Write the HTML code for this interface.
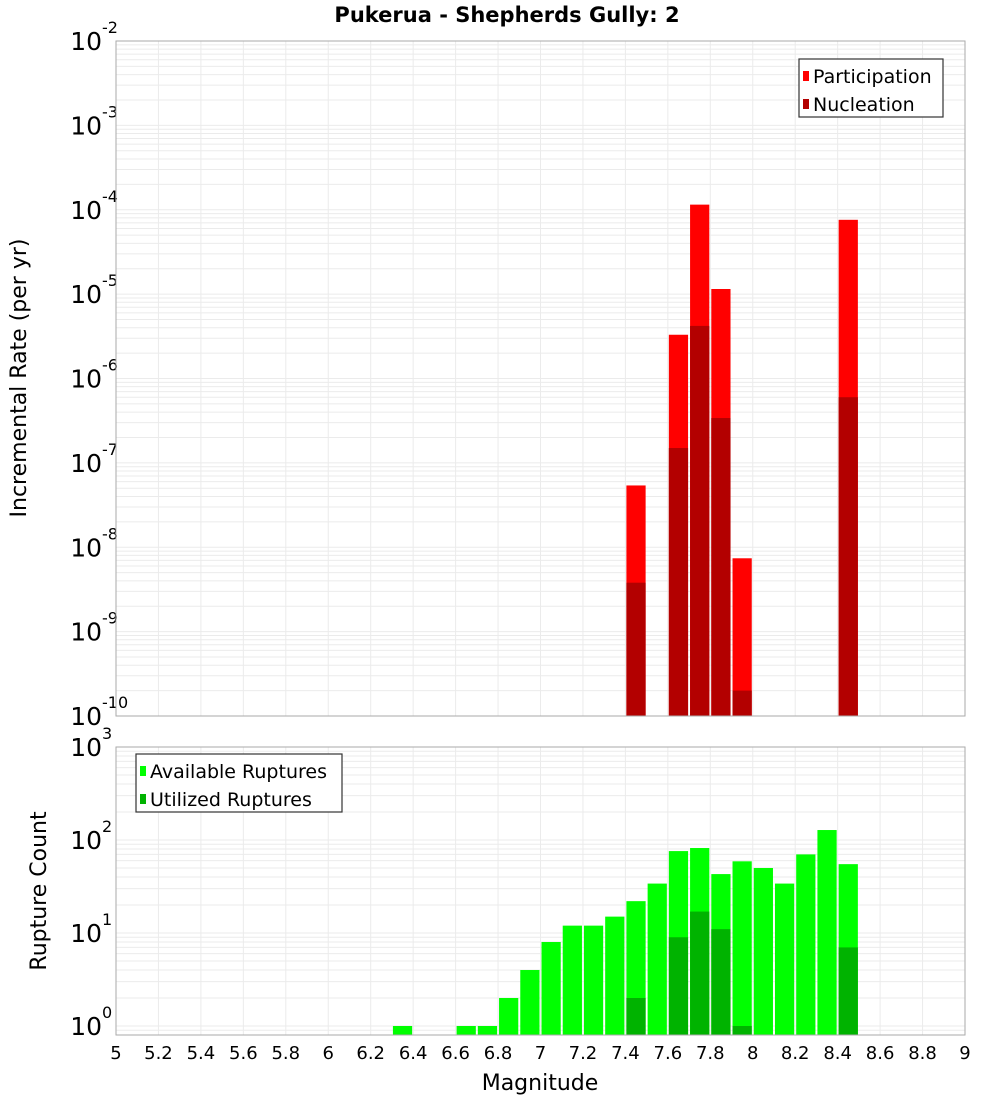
<!DOCTYPE html>
<html><head><meta charset="utf-8"><style>
body{margin:0;background:#fff;}
svg{display:block;font-family:"Liberation Sans","DejaVu Sans",sans-serif;}
</style></head><body>
<svg id="chart" width="1000" height="1100" viewBox="0 0 1000 1100">
<text x="507" y="22" text-anchor="middle" font-size="21" font-weight="bold" font-family="DejaVu Sans, sans-serif">Pukerua - Shepherds Gully: 2</text>
<g id="top"></g>
<g id="bot"></g>
<text transform="translate(26,378) rotate(-90)" text-anchor="middle" font-size="22" font-family="DejaVu Sans, sans-serif">Incremental Rate (per yr)</text>
<text transform="translate(46,891) rotate(-90)" text-anchor="middle" font-size="22" font-family="DejaVu Sans, sans-serif">Rupture Count</text>
<text x="540" y="1090" text-anchor="middle" font-size="22" font-family="DejaVu Sans, sans-serif">Magnitude</text>
</svg>
<script>
const magBins=[7.45,7.65,7.75,7.85,7.95,8.45];
const participation=[5.4e-8,3.3e-6,1.15e-4,1.15e-5,7.4e-9,7.6e-5];
const nucleation=[3.8e-9,1.5e-7,4.2e-6,3.4e-7,2.0e-10,6.0e-7];
const countBins=[6.35,6.65,6.75,6.85,6.95,7.05,7.15,7.25,7.35,7.45,7.55,7.65,7.75,7.85,7.95,8.05,8.15,8.25,8.35,8.45];
const available=[1,1,1,2,4,8,12,12,15,22,34,76,82,43,59,50,34,70,128,55];
const utilBins=[7.45,7.65,7.75,7.85,7.95,8.45];
const utilized=[2,9,17,11,1,7];
const xTicks=[5,5.2,5.4,5.6,5.8,6,6.2,6.4,6.6,6.8,7,7.2,7.4,7.6,7.8,8,8.2,8.4,8.6,8.8,9];
const topExps=[-2,-3,-4,-5,-6,-7,-8,-9,-10];
const botExps=[3,2,1,0];

const NS="http://www.w3.org/2000/svg";
const L=116,R=965;
const xs=m=>L+(m-5)/(9-5)*(R-L);
function mk(p,t,a){const e=document.createElementNS(NS,t);for(const k in a)e.setAttribute(k,a[k]);p.appendChild(e);return e;}

function panel(g,top,bot,lmax,lmin,exps,name){
  const ys=v=>top+(lmax-Math.log10(v))/(lmax-lmin)*(bot-top);
  // grid
  for(let d=Math.floor(lmin);d<lmax;d++){for(let k=1;k<10;k++){const v=k*Math.pow(10,d);const y=ys(v);if(y<top||y>bot)continue;
    const ln=mk(g,'line',{x1:L,x2:R,y1:y,y2:y,stroke:'#ebebeb','stroke-width':1});
    
    }}
  xTicks.forEach(t=>{const ln=mk(g,'line',{x1:xs(t),x2:xs(t),y1:top,y2:bot,stroke:'#ebebeb','stroke-width':1});
    
    });
  // ticks labels
  exps.forEach(e=>{const y=ys(Math.pow(10,e));
    const t=mk(g,'text',{x:102,y:y+9,'text-anchor':'end','font-size':25,'font-family':'DejaVu Sans, sans-serif'});t.textContent='10';
    
    
    const s=mk(g,'text',{x:102,y:y-8,'font-size':16,'font-family':'DejaVu Sans, sans-serif'});s.textContent=String(e);
    
    });
  return ys;
}
function bar(g,m,v,ys,bot,col,name){
  const x0=xs(m-0.05)+1,x1=xs(m+0.05)-1;const y=Math.max(ys(v),0);
  const r=mk(g,'rect',{x:x0,y:y,width:x1-x0,height:bot-y,fill:col});
  
  
}
function frame(g,top,bot){const r=mk(g,'rect',{x:L,y:top,width:R-L,height:bot-top,fill:'none',stroke:'#aaa','stroke-width':1});
  
  }
function legend(g,x,y,w,items){
  const r=mk(g,'rect',{x:x,y:y,width:w,height:58,fill:'#fff',stroke:'#333','stroke-width':1.2});
  
  
  items.forEach((it,i)=>{const yy=y+16+i*28;
    const s=mk(g,'rect',{x:x+4,y:yy-4,width:6,height:10,fill:it[1]});
    
    
    const t=mk(g,'text',{x:x+14,y:yy+8,'font-size':19,'font-family':'DejaVu Sans, sans-serif'});t.textContent=it[0];
    
    });
}
const gt=document.getElementById('top'),gb=document.getElementById('bot');
const T0=41,T1=716;
const ysT=panel(gt,T0,T1,-2,-10,topExps,'top');
magBins.forEach((m,i)=>bar(gt,m,participation[i],ysT,T1,'#ff0000','participation-bar'));
magBins.forEach((m,i)=>bar(gt,m,nucleation[i],ysT,T1,'#b30000','nucleation-bar'));
frame(gt,T0,T1);
legend(gt,799,59,144,[['Participation','#ff0000'],['Nucleation','#b30000']]);

const B0=747,B1=1035;
const lminB=-(B1-1026)/93;
const ysB=panel(gb,B0,B1,3,lminB,botExps,'bot');
countBins.forEach((m,i)=>bar(gb,m,available[i],ysB,B1,'#00ff00','available-bar'));
utilBins.forEach((m,i)=>bar(gb,m,utilized[i],ysB,B1,'#00b300','utilized-bar'));
frame(gb,B0,B1);
legend(gb,136,754,206,[['Available Ruptures','#00ff00'],['Utilized Ruptures','#00b300']]);
xTicks.forEach(t=>{const e=mk(gb,'text',{x:xs(t),y:1059,'text-anchor':'middle','font-size':18,'font-family':'DejaVu Sans, sans-serif'});
  e.textContent=String(t);
  
  });
</script>
</body></html>
